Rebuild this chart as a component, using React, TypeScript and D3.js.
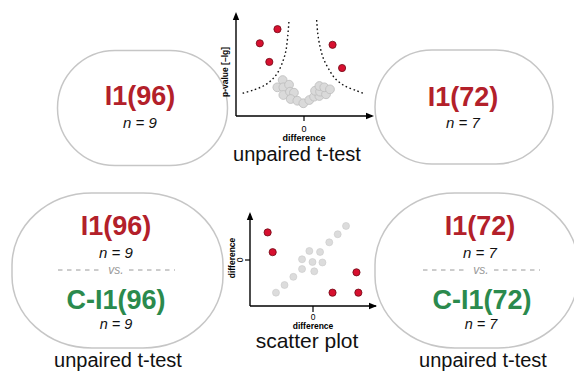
import React from "react";
import * as d3 from "d3";

// Volcano plot (difference vs. -log p)
const volcanoSignificant = [
  { x: -1.95, y: 8.6 },
  { x: -3.25, y: 7.2 },
  { x: -2.55, y: 5.35 },
  { x: 2.1, y: 7.05 },
  { x: 2.8, y: 4.75 },
];
const volcanoOther = [
  { x: -1.57, y: 3.56 },
  { x: -1.96, y: 2.84 },
  { x: -1.52, y: 2.84 },
  { x: -1.1, y: 3.1 },
  { x: -1.52, y: 2.08 },
  { x: -1.03, y: 2.41 },
  { x: -0.74, y: 2.31 },
  { x: -0.98, y: 1.68 },
  { x: -0.49, y: 1.51 },
  { x: -0.05, y: 1.26 },
  { x: 0.39, y: 1.58 },
  { x: 0.74, y: 1.91 },
  { x: 1.13, y: 1.98 },
  { x: 0.81, y: 2.5 },
  { x: 1.18, y: 2.41 },
  { x: 1.62, y: 2.15 },
  { x: 1.13, y: 2.97 },
  { x: 1.49, y: 2.84 },
  { x: 1.91, y: 2.64 },
];
const thresholdLeft = [
  { x: -4.51, y: 2.25 },
  { x: -3.73, y: 2.57 },
  { x: -2.99, y: 2.97 },
  { x: -2.38, y: 3.56 },
  { x: -1.89, y: 4.39 },
  { x: -1.52, y: 5.54 },
  { x: -1.32, y: 6.53 },
  { x: -1.2, y: 7.85 },
  { x: -1.1, y: 9.5 },
];
const thresholdRight = [
  { x: 0.93, y: 9.5 },
  { x: 1.01, y: 8.19 },
  { x: 1.18, y: 6.86 },
  { x: 1.42, y: 5.71 },
  { x: 1.79, y: 4.72 },
  { x: 2.28, y: 3.73 },
  { x: 3.01, y: 2.97 },
  { x: 3.88, y: 2.5 },
  { x: 4.36, y: 2.25 },
];

// Scatter plot (difference vs. difference)
const scatterSignificant = [
  { x: -3.6, y: 3.0 },
  { x: -3.2, y: 0.85 },
  { x: 3.45, y: -1.34 },
  { x: 1.55, y: -3.55 },
  { x: 3.6, y: -3.55 },
];
const scatterOther = [
  { x: -2.94, y: -3.55 },
  { x: -2.26, y: -2.72 },
  { x: -1.56, y: -1.83 },
  { x: -0.87, y: -0.98 },
  { x: -0.87, y: 0.08 },
  { x: -0.29, y: 0.98 },
  { x: -0.04, y: -0.22 },
  { x: 0.1, y: -1.23 },
  { x: 0.56, y: 0.87 },
  { x: 0.75, y: -0.27 },
  { x: 1.29, y: 1.92 },
  { x: 1.96, y: 2.8 },
  { x: 2.62, y: 3.7 },
];

const groupLabels = ["I1(96)", "I1(72)"];
const controlLabels = ["C-I1(96)", "C-I1(72)"];
const groupSizes = [9, 7];

const FONT = "'Liberation Sans', Arial, Helvetica, sans-serif";
const RED_TEXT = "#b3202a";
const GREEN_TEXT = "#2b8a4d";
const RED_DOT = "#d7102f";
const PILL = "#c6c6c6";

function Arrow({ x, y, dir }: { x: number; y: number; dir: "up" | "right" }) {
  const p =
    dir === "up"
      ? `M${x},${y} L${x - 3.2},${y + 8} L${x + 3.2},${y + 8} Z`
      : `M${x},${y} L${x - 8},${y - 3.2} L${x - 8},${y + 3.2} Z`;
  return <path d={p} fill="#000" />;
}

function VsLine({ cx, y }: { cx: number; y: number }) {
  return (
    <g>
      <line x1={cx - 58} x2={cx - 13} y1={y} y2={y} stroke="#9a9a9a" strokeWidth={1} strokeDasharray="4.5,4.5" />
      <text x={cx} y={y + 4} textAnchor="middle" fontFamily={FONT} fontStyle="italic" fontSize={12} fill="#9a9a9a">
        vs.
      </text>
      <line x1={cx + 13} x2={cx + 59} y1={y} y2={y} stroke="#9a9a9a" strokeWidth={1} strokeDasharray="4.5,4.5" />
    </g>
  );
}

export default function App() {
  // volcano scales
  const vx = d3.scaleLinear().domain([-5, 5]).range([236, 372]);
  const vy = d3.scaleLinear().domain([0, 10]).range([116, 15]);
  const vLine = d3
    .line<{ x: number; y: number }>()
    .x((d) => vx(d.x))
    .y((d) => vy(d.y))
    .curve(d3.curveCatmullRom);

  // scatter scales
  const sx = d3.scaleLinear().domain([-5, 5]).range([250, 376]);
  const sy = d3.scaleLinear().domain([-5, 5]).range([306, 214]);

  return (
    <svg width={574} height={374} style={{ position: "absolute", left: 0, top: 0 }} fontFamily={FONT}>
      <rect width={574} height={374} fill="#fff" />

      {/* single-group pills */}
      <rect x={57.5} y={50.5} width={170} height={115} rx={57.5} fill="none" stroke={PILL} strokeWidth={1.5} />
      <rect x={375} y={50} width={178} height={114} rx={57} fill="none" stroke={PILL} strokeWidth={1.5} />

      {/* comparison pills */}
      <rect x={12} y={193} width={211} height={155} rx={80} ry={72} fill="none" stroke={PILL} strokeWidth={1.5} />
      <rect x={375} y={193} width={203} height={155} rx={80} ry={72} fill="none" stroke={PILL} strokeWidth={1.5} />

      {/* top pill labels */}
      <text x={140} y={105} textAnchor="middle" fontWeight="bold" fontSize={27} fill={RED_TEXT}>
        {groupLabels[0]}
      </text>
      <text x={140} y={128} textAnchor="middle" fontStyle="italic" fontSize={15} fill="#111">
        n = {groupSizes[0]}
      </text>
      <text x={463} y={106} textAnchor="middle" fontWeight="bold" fontSize={27} fill={RED_TEXT}>
        {groupLabels[1]}
      </text>
      <text x={463} y={128} textAnchor="middle" fontStyle="italic" fontSize={15} fill="#111">
        n = {groupSizes[1]}
      </text>

      {/* bottom-left comparison */}
      <text x={116} y={235} textAnchor="middle" fontWeight="bold" fontSize={27} fill={RED_TEXT}>
        {groupLabels[0]}
      </text>
      <text x={116} y={258} textAnchor="middle" fontStyle="italic" fontSize={15} fill="#111">
        n = {groupSizes[0]}
      </text>
      <VsLine cx={116} y={270} />
      <text x={116} y={309} textAnchor="middle" fontWeight="bold" fontSize={27} fill={GREEN_TEXT}>
        {controlLabels[0]}
      </text>
      <text x={116} y={329} textAnchor="middle" fontStyle="italic" fontSize={14.5} fill="#111">
        n = {groupSizes[0]}
      </text>
      <text x={118} y={367} textAnchor="middle" fontSize={20} fill="#111">
        unpaired t-test
      </text>

      {/* bottom-right comparison */}
      <text x={480} y={235} textAnchor="middle" fontWeight="bold" fontSize={27} fill={RED_TEXT}>
        {groupLabels[1]}
      </text>
      <text x={480} y={258} textAnchor="middle" fontStyle="italic" fontSize={15} fill="#111">
        n = {groupSizes[1]}
      </text>
      <VsLine cx={481} y={270} />
      <text x={482} y={309} textAnchor="middle" fontWeight="bold" fontSize={27} fill={GREEN_TEXT}>
        {controlLabels[1]}
      </text>
      <text x={481} y={329} textAnchor="middle" fontStyle="italic" fontSize={14.5} fill="#111">
        n = {groupSizes[1]}
      </text>
      <text x={483} y={367} textAnchor="middle" fontSize={20} fill="#111">
        unpaired t-test
      </text>

      {/* volcano plot */}
      <g>
        <path d={vLine(thresholdLeft) || ""} fill="none" stroke="#111" strokeWidth={1.4} strokeDasharray="1.6,2.6" />
        <path d={vLine(thresholdRight) || ""} fill="none" stroke="#111" strokeWidth={1.4} strokeDasharray="1.6,2.6" />
        {volcanoOther.map((d, i) => (
          <circle key={"vo" + i} cx={vx(d.x)} cy={vy(d.y)} r={4.4} fill="#dadada" stroke="#bdbdbd" strokeWidth={0.8} />
        ))}
        {volcanoSignificant.map((d, i) => (
          <circle key={"vs" + i} cx={vx(d.x)} cy={vy(d.y)} r={3.6} fill={RED_DOT} stroke="#6e0a16" strokeWidth={0.8} />
        ))}
        <line x1={vx.range()[0]} x2={vx.range()[0]} y1={vy.range()[0]} y2={vy.range()[1]} stroke="#000" strokeWidth={1.4} />
        <line x1={vx.range()[0]} x2={vx.range()[1]} y1={vy.range()[0]} y2={vy.range()[0]} stroke="#000" strokeWidth={1.4} />
        <Arrow x={vx.range()[0]} y={vy.range()[1] - 3} dir="up" />
        <Arrow x={vx.range()[1] + 2} y={vy.range()[0]} dir="right" />
        <line x1={vx(0)} x2={vx(0)} y1={vy.range()[0]} y2={vy.range()[0] + 5} stroke="#000" strokeWidth={1.2} />
        <text x={vx(0)} y={132} textAnchor="middle" fontSize={9} fill="#000">
          0
        </text>
        <text x={vx(0)} y={141} textAnchor="middle" fontSize={9} fontWeight="bold" fill="#000">
          difference
        </text>
        <text
          transform={`translate(228,72) rotate(-90)`}
          textAnchor="middle"
          fontSize={8.5}
          fontWeight="bold"
          fill="#000"
        >
          p-value [–lg]
        </text>
        <text x={297} y={161} textAnchor="middle" fontSize={20} fill="#111">
          unpaired t-test
        </text>
      </g>

      {/* scatter plot */}
      <g>
        {scatterOther.map((d, i) => (
          <circle key={"so" + i} cx={sx(d.x)} cy={sy(d.y)} r={3.5} fill="#dcdcdc" stroke="#cacaca" strokeWidth={0.6} />
        ))}
        {scatterSignificant.map((d, i) => (
          <circle key={"ss" + i} cx={sx(d.x)} cy={sy(d.y)} r={3.6} fill={RED_DOT} stroke="#6e0a16" strokeWidth={0.8} />
        ))}
        <line x1={sx.range()[0]} x2={sx.range()[0]} y1={sy.range()[0]} y2={sy.range()[1]} stroke="#000" strokeWidth={1.4} />
        <line x1={sx.range()[0]} x2={sx.range()[1]} y1={sy.range()[0]} y2={sy.range()[0]} stroke="#000" strokeWidth={1.4} />
        <Arrow x={sx.range()[0]} y={sy.range()[1] - 2} dir="up" />
        <Arrow x={sx.range()[1] + 1} y={sy.range()[0]} dir="right" />
        <line x1={sx(0)} x2={sx(0)} y1={sy.range()[0]} y2={sy.range()[0] + 6} stroke="#000" strokeWidth={1.2} />
        <line x1={sx.range()[0] - 5} x2={sx.range()[0]} y1={sy(0)} y2={sy(0)} stroke="#000" strokeWidth={1.2} />
        <text x={sx(0)} y={320} textAnchor="middle" fontSize={8.5} fill="#000">
          0
        </text>
        <text x={sx(0)} y={328.5} textAnchor="middle" fontSize={8.5} fontWeight="bold" fill="#000">
          difference
        </text>
        <text transform={`translate(243,${sy(0)}) rotate(-90)`} textAnchor="middle" fontSize={8.5} fill="#000">
          0
        </text>
        <text
          transform={`translate(235,${sy(0) - 2}) rotate(-90)`}
          textAnchor="middle"
          fontSize={8.5}
          fontWeight="bold"
          fill="#000"
        >
          difference
        </text>
        <text x={307} y={348} textAnchor="middle" fontSize={21} fill="#111">
          scatter plot
        </text>
      </g>
    </svg>
  );
}
